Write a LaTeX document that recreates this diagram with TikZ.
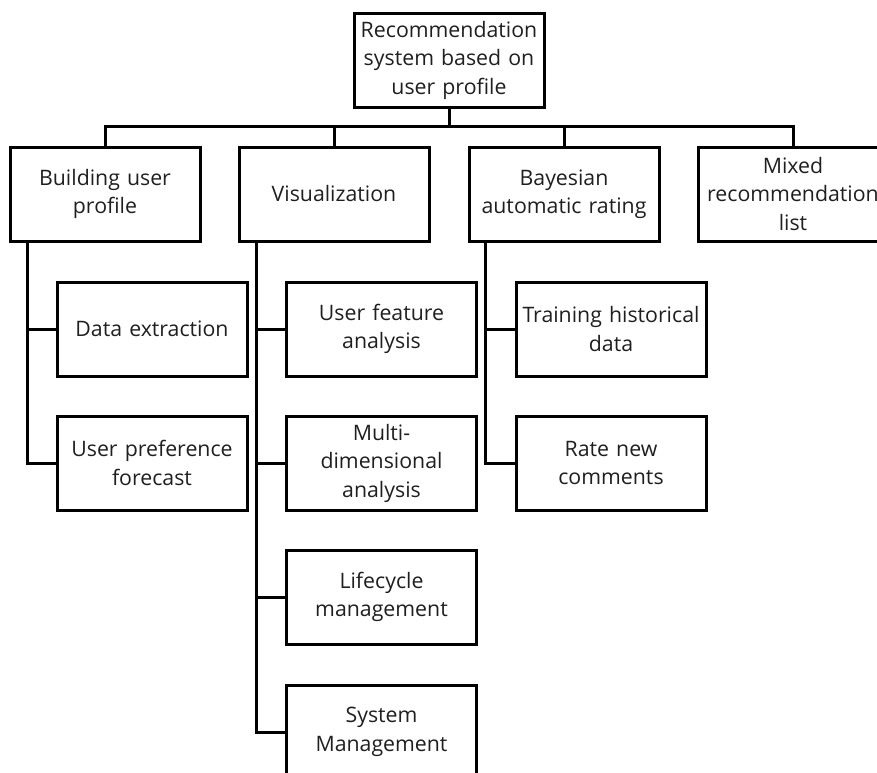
\documentclass[tikz,border=0pt]{standalone}
\usepackage{fontspec}
\setmainfont{Open Sans}
\begin{document}
\begin{tikzpicture}[x=1pt,y=-1pt,
  boxnode/.style={draw=black, line width=3pt, rectangle, align=center,
    text width=186pt, inner xsep=2pt, inner ysep=0pt,
    minimum width=190pt, minimum height=94pt,
    font=\fontsize{21.3}{28.5}\selectfont, text=black!88},
  link/.style={draw=black, line width=3pt}]
\useasboundingbox (0,0) rectangle (877,772);
% root
\node[boxnode] (root) at (449,60) {Recommendation\\system based on\\user profile};
% level 1
\node[boxnode] (b1) at (105,194) {Building user\\profile};
\node[boxnode] (b2) at (334,194) {Visualization};
\node[boxnode] (b3) at (564,194) {Bayesian\\automatic rating};
\node[boxnode] (b4) at (793,194) {Mixed\\recommendation\\list};
% level 2
\node[boxnode] (c11) at (152,329) {Data extraction};
\node[boxnode] (c12) at (152,463) {User preference\\forecast};
\node[boxnode] (c21) at (381.5,329) {User feature\\analysis};
\node[boxnode] (c22) at (381.5,463) {Multi-\\dimensional\\analysis};
\node[boxnode] (c23) at (381.5,597) {Lifecycle\\management};
\node[boxnode] (c24) at (381.5,732) {System\\Management};
\node[boxnode] (c31) at (611,329) {Training historical\\data};
\node[boxnode] (c32) at (611,463) {Rate new\\comments};
% bus
\coordinate (bus) at (0,126);
\draw[link] (root.south) -- (root.south |- bus);
\draw[link, line join=miter] (b1.north) |- (b4.north |- bus) -- (b4.north);
\draw[link] (b2.north) -- (b2.north |- bus);
\draw[link] (b3.north) -- (b3.north |- bus);
% branches
\coordinate (v1) at ([xshift=19pt]b1.south west);
\coordinate (v2) at ([xshift=19pt]b2.south west);
\coordinate (v3) at ([xshift=18pt]b3.south west);
\draw[link, line join=miter] (v1) |- (c12.west);
\draw[link] (v1 |- c11.west) -- (c11.west);
\draw[link, line join=miter] (v2) |- (c24.west);
\draw[link] (v2 |- c21.west) -- (c21.west);
\draw[link] (v2 |- c22.west) -- (c22.west);
\draw[link] (v2 |- c23.west) -- (c23.west);
\draw[link, line join=miter] (v3) |- (c32.west);
\draw[link] (v3 |- c31.west) -- (c31.west);
\end{tikzpicture}
\end{document}
